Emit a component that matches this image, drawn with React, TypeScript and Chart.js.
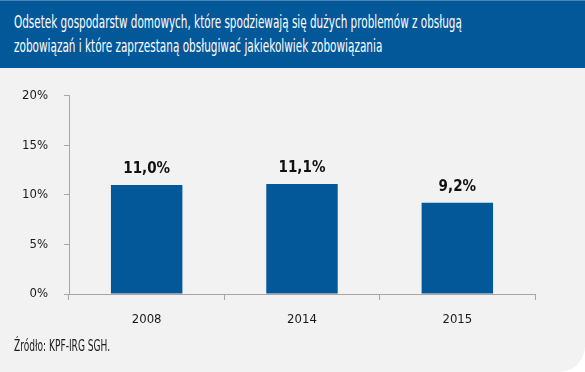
import React, { useEffect, useLayoutEffect, useRef } from "react";
import { Chart, registerables } from "chart.js";

Chart.register(...registerables);

const categories = ["2008", "2014", "2015"];
const values = [11.0, 11.1, 9.2];
const valueLabels = ["11,0%", "11,1%", "9,2%"];
const yTicks = [0, 5, 10, 15, 20];

const FONT = "'DejaVu Sans Condensed', 'Liberation Sans Narrow', sans-serif";
const BLUE = "#03589a";

const valueLabelPlugin = {
  id: "valueLabels",
  afterDatasetsDraw(chart: any) {
    const ctx = chart.ctx;
    const meta = chart.getDatasetMeta(0);
    ctx.save();
    ctx.font = `bold 15px ${FONT}`;
    ctx.fillStyle = "#111111";
    ctx.textAlign = "center";
    ctx.textBaseline = "middle";
    meta.data.forEach((bar: any, i: number) => {
      ctx.fillText(valueLabels[i], bar.x, bar.y - 16);
    });
    ctx.restore();
  },
};

function FitText({ width, children, style }: { width: number; children: any; style?: any }) {
  const ref = useRef<HTMLDivElement | null>(null);
  useLayoutEffect(() => {
    const el = ref.current;
    if (!el) return;
    el.style.transform = "none";
    const w = el.scrollWidth;
    if (w > 0) el.style.transform = `scaleX(${width / w})`;
  }, [width]);
  return (
    <div
      ref={ref}
      style={{
        display: "inline-block",
        whiteSpace: "nowrap",
        transformOrigin: "left center",
        ...style,
      }}
    >
      {children}
    </div>
  );
}

export default function App() {
  const canvasRef = useRef<HTMLCanvasElement | null>(null);

  useEffect(() => {
    document.body.style.margin = "0";
    const canvas = canvasRef.current;
    if (!canvas) return;
    const chart = new Chart(canvas, {
      type: "bar",
      data: {
        labels: categories,
        datasets: [
          {
            data: values,
            backgroundColor: BLUE,
            borderWidth: 0,
            barPercentage: 0.46,
            categoryPercentage: 1,
          },
        ],
      },
      options: {
        animation: false,
        responsive: false,
        maintainAspectRatio: false,
        layout: { padding: { top: 9, right: 50, bottom: 0, left: 0 } },
        plugins: {
          legend: { display: false },
          tooltip: { enabled: false },
          title: { display: false },
        },
        scales: {
          x: {
            offset: true,
            afterFit: (s: any) => {
              s.height = 46;
            },
            grid: {
              display: true,
              offset: true,
              drawOnChartArea: false,
              drawTicks: true,
              tickLength: 6,
              color: "#a6a6a6",
            },
            border: { display: true, color: "#a6a6a6", width: 1 },
            ticks: {
              padding: 12,
              color: "#1a1a1a",
              font: { family: FONT, size: 13 },
            },
          },
          y: {
            min: 0,
            max: 20,
            afterFit: (s: any) => {
              s.width = 69;
            },
            afterBuildTicks: (s: any) => {
              s.ticks = yTicks.map((v) => ({ value: v }));
            },
            grid: {
              display: true,
              drawOnChartArea: false,
              drawTicks: true,
              tickLength: 5,
              color: "#a6a6a6",
            },
            border: { display: true, color: "#a6a6a6", width: 1 },
            ticks: {
              padding: 16,
              color: "#1a1a1a",
              font: { family: FONT, size: 13 },
              callback: (v: any) => `${v}%`,
            },
          },
        },
      },
      plugins: [valueLabelPlugin],
    });
    return () => chart.destroy();
  }, []);

  return (
    <div
      style={{
        position: "relative",
        width: 585,
        height: 372,
        background: "#f2f2f2",
        borderBottomRightRadius: 26,
        overflow: "hidden",
        fontFamily: FONT,
      }}
    >
      <div
        style={{
          position: "absolute",
          left: 0,
          top: 0,
          width: 585,
          height: 68,
          background: BLUE,
          borderTop: "1px solid #4f86b8",
          boxSizing: "border-box",
        }}
      >
        <div
          style={{
            position: "absolute",
            left: 14,
            top: 9,
            color: "#ffffff",
            fontSize: 17,
            lineHeight: "24px",
          }}
        >
          <div>
            <FitText width={448}>
              Odsetek gospodarstw domowych, które spodziewają się dużych problemów z obsługą
            </FitText>
          </div>
          <div>
            <FitText width={368}>
              zobowiązań i które zaprzestaną obsługiwać jakiekolwiek zobowiązania
            </FitText>
          </div>
        </div>
      </div>
      <canvas
        ref={canvasRef}
        width={585}
        height={268}
        style={{ position: "absolute", left: 0, top: 72, width: 585, height: 268 }}
      />
      <div
        style={{
          position: "absolute",
          left: 14,
          top: 337,
          fontSize: 15,
          color: "#1a1a1a",
        }}
      >
        <FitText width={96}>Źródło: KPF-IRG SGH.</FitText>
      </div>
    </div>
  );
}
